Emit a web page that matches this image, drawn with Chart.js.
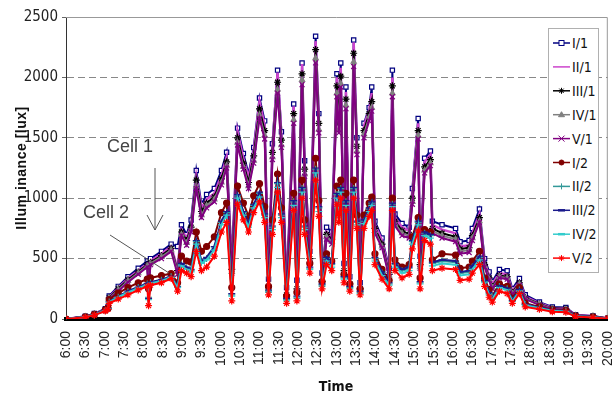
<!DOCTYPE html>
<html>
<head>
<meta charset="utf-8">
<script src="https://cdn.jsdelivr.net/npm/chart.js@4.4.1/dist/chart.umd.min.js"></script>
<style>
  body { margin: 0; background: #fff; }
  #wrap { position: relative; width: 613px; height: 397px; }
  #chart { position: absolute; left: 0; top: 0; }
  #overlay { position: absolute; left: 0; top: 0; pointer-events: none; }
  .narrow { font-family: 'Liberation Sans Narrow', 'Arial Narrow', 'DejaVu Sans Condensed', sans-serif; }
  .sans { font-family: 'Liberation Sans', Arial, sans-serif; }
</style>
</head>
<body>
<div id="wrap">
  <canvas id="chart" width="613" height="397"></canvas>
  <svg id="overlay" width="613" height="397"></svg>
</div>
<script>
// sample times
const times = ['6:00','6:30','6:44','7:01','7:05','7:07','7:21','7:36','7:52','8:06',
  '8:08','8:11','8:28','8:43','8:53','8:59','9:07','9:14','9:22','9:30',
  '9:38','9:50','10:01','10:09','10:17','10:26','10:35','10:43','10:51','11:00',
  '11:08','11:14','11:20','11:28','11:34','11:42','11:53','11:58','12:06','12:10',
  '12:18','12:27','12:32','12:37','12:44','12:52','13:00','13:03','13:06','13:11',
  '13:14','13:20','13:26','13:31','13:36','13:42','13:50','13:54','13:59','14:10',
  '14:21','14:26','14:30','14:41','14:52','14:57','15:06','15:09','15:16','15:25',
  '15:28','15:43','16:04','16:11','16:25','16:30','16:41','16:49','16:56','17:01',
  '17:12','17:24','17:32','17:43','17:52','18:14','18:34','18:55','19:10','19:37','20:00'];

const timeTicks = ['6:00','6:30','7:00','7:30','8:00','8:30','9:00','9:30','10:00','10:30',
  '11:00','11:30','12:00','12:30','13:00','13:30','14:00','14:30','15:00','15:30',
  '16:00','16:30','17:00','17:30','18:00','18:30','19:00','19:30','20:00'];
const yTicks = [0, 500, 1000, 1500, 2000, 2500];

const seriesNames = ['I/1','II/1','III/1','IV/1','V/1','I/2','II/2','III/2','IV/2','V/2'];

// cell 1
const i1 = [0,22,45,85,100,190,270,350,420,480,
  460,500,560,620,600,780,700,820,1230,950,
  1030,1080,1230,1380,480,1580,1370,1200,1420,1830,
  1640,330,1450,2060,1550,260,1780,320,2120,1310,
  560,2340,1700,380,760,720,2030,1700,2120,460,
  1920,350,2310,1500,300,1620,1750,1920,810,670,
  420,2060,870,790,760,1080,1660,520,1330,1390,
  810,780,750,640,650,750,910,500,390,310,
  410,400,250,335,200,140,100,95,35,25,5];
const ii1 = [0,20,42,80,95,180,255,335,400,460,
  300,480,540,600,420,740,670,780,1180,920,
  990,1040,1190,1340,430,1550,1330,1170,1390,1800,
  1600,280,1420,2040,1520,220,1760,270,2110,1280,
  520,2300,1680,330,720,680,2000,1670,2080,420,
  1880,310,2290,1470,260,1600,1730,1870,780,650,
  390,2000,840,760,730,1040,1620,470,1300,1360,
  780,740,710,600,610,710,870,470,360,290,
  380,370,230,310,185,130,92,88,32,23,5];
const iii1 = [0,20,40,78,92,175,250,325,390,450,
  280,470,525,585,400,720,650,760,1150,890,
  960,1010,1160,1300,410,1500,1290,1130,1350,1740,
  1560,260,1380,1960,1480,200,1700,250,2030,1240,
  500,2230,1620,310,700,660,1930,1620,2010,400,
  1820,290,2200,1430,250,1560,1700,1800,750,620,
  370,1930,810,730,700,1000,1560,450,1260,1320,
  750,710,680,580,590,690,840,450,340,270,
  360,350,220,300,175,125,88,84,30,22,4];
const iv1 = [0,19,40,76,90,170,240,315,380,440,
  260,460,515,570,390,700,630,740,1100,860,
  940,990,1130,1270,390,1460,1260,1100,1310,1690,
  1520,250,1340,1900,1440,190,1650,240,1980,1200,
  480,2160,1570,300,680,640,1870,1570,1950,380,
  1770,280,2130,1390,240,1530,1670,1750,730,600,
  360,1870,790,710,690,970,1520,430,1230,1290,
  730,690,660,560,570,670,810,440,330,260,
  350,340,210,290,170,120,85,80,29,21,4];
const v1 = [0,18,38,74,88,165,230,305,370,430,
  250,450,500,560,370,690,610,720,1080,840,
  920,970,1110,1250,380,1440,1240,1080,1290,1660,
  1490,240,1320,1870,1420,180,1620,230,1940,1180,
  470,2120,1540,290,660,620,1840,1540,1920,370,
  1740,270,2090,1360,230,1500,1640,1720,710,590,
  350,1840,770,690,670,950,1490,420,1210,1270,
  710,670,640,540,550,650,800,430,320,250,
  340,330,200,280,165,115,82,78,28,20,4];

// cell 2
const i2 = [0,18,38,75,90,160,215,260,300,330,
  250,340,360,375,300,520,480,470,720,560,
  600,680,880,960,260,1100,960,850,1020,1120,
  930,270,820,1200,920,190,1040,220,1150,820,
  460,1330,980,310,540,480,1100,920,1150,370,
  1040,290,1150,860,250,860,960,1010,540,410,
  320,1000,490,430,450,680,840,340,740,720,
  490,540,530,420,430,480,560,340,240,190,
  290,270,170,260,130,100,75,70,26,18,4];
const ii2 = [0,16,34,70,84,140,180,225,260,290,
  180,300,320,350,270,450,420,400,640,470,
  500,590,800,880,200,1020,880,780,940,1040,
  860,230,760,1120,860,160,970,180,1080,760,
  420,1240,920,280,500,450,1030,860,1080,340,
  970,260,1080,800,220,810,910,960,500,380,
  290,950,450,400,420,640,800,300,710,690,
  460,480,470,380,390,430,510,310,210,170,
  270,250,150,240,120,92,70,65,24,16,4];
const iii2 = [0,17,36,72,86,145,185,230,265,295,
  170,305,325,355,265,460,430,410,650,480,
  510,600,810,890,210,1030,890,790,950,1050,
  870,240,770,1130,870,170,980,190,1090,770,
  430,1250,930,290,510,460,1040,870,1090,350,
  980,270,1090,810,230,820,920,970,510,390,
  300,960,460,410,430,650,810,310,720,700,
  470,490,480,390,400,440,520,320,220,175,
  275,255,155,245,122,94,72,66,24,16,4];
const iv2 = [0,16,35,70,84,140,180,220,255,285,
  160,295,315,345,260,440,410,390,620,460,
  490,570,780,860,190,1000,860,760,920,1010,
  840,220,740,1090,840,150,940,170,1050,740,
  410,1210,890,270,480,430,1000,840,1050,330,
  940,250,1050,780,210,790,890,940,480,360,
  280,930,430,380,400,620,780,290,690,670,
  440,460,450,360,370,410,490,300,200,165,
  260,240,145,230,115,90,68,62,22,15,3];
const v2 = [0,14,32,66,80,130,165,200,240,270,
  110,280,300,335,230,400,380,350,560,400,
  430,520,720,800,150,950,820,720,880,970,
  800,200,700,1050,800,130,900,150,1000,700,
  380,1150,850,250,450,400,950,800,1000,300,
  900,230,1000,750,200,750,850,900,450,330,
  250,900,400,340,370,580,730,250,650,620,
  400,420,410,320,330,380,450,270,180,140,
  230,210,130,210,100,80,60,55,20,12,3];

const seriesValues = [i1, ii1, iii1, iv1, v1, i2, ii2, iii2, iv2, v2];

const seriesStyles = [
  { color: '#000080', point: 'rect', fill: '#ffffff', r: 3 },
  { color: '#cc44cc', point: false, fill: '#cc44cc', r: 0 },
  { color: '#000000', point: 'star', fill: '#000000', r: 3.5 },
  { color: '#808080', point: 'triangle', fill: '#808080', r: 3 },
  { color: '#800080', point: 'crossRot', fill: '#800080', r: 3.5 },
  { color: '#800000', point: 'circle', fill: '#800000', r: 3 },
  { color: '#339999', point: 'cross', fill: '#339999', r: 3.5 },
  { color: '#1a1a8c', point: 'line', fill: '#1a1a8c', r: 3.5 },
  { color: '#33cccc', point: 'line', fill: '#33cccc', r: 3.5 },
  { color: '#ff0000', point: 'star', fill: '#ff0000', r: 3.5 }
];

function toHours(s) {
  const [h, m] = s.split(':').map(Number);
  return h + m / 60;
}

const NARROW = "'Liberation Sans Narrow', 'Arial Narrow', 'DejaVu Sans Condensed', sans-serif";
Chart.defaults.font.family = "'Liberation Sans', Arial, sans-serif";

const datasets = seriesValues.map((vals, i) => {
  const st = seriesStyles[i];
  return {
    label: seriesNames[i],
    data: vals.map((v, k) => ({ x: toHours(times[k]), y: v })),
    borderColor: st.color,
    backgroundColor: st.fill,
    borderWidth: i === 1 ? 2.5 : 2,
    pointStyle: st.point,
    pointRadius: st.r,
    pointBorderColor: st.color,
    pointBackgroundColor: st.fill,
    pointBorderWidth: 1.2,
    tension: 0,
    order: seriesValues.length - i
  };
});

const framePlugin = {
  id: 'frame',
  beforeDatasetsDraw(chart) {
    const { ctx, chartArea: a } = chart;
    ctx.save();
    ctx.strokeStyle = '#999';
    ctx.lineWidth = 1;
    ctx.beginPath();
    ctx.moveTo(a.left, a.top + 0.5);
    ctx.lineTo(a.right - 0.5, a.top + 0.5);
    ctx.lineTo(a.right - 0.5, a.bottom);
    ctx.stroke();
    ctx.restore();
  }
};

new Chart(document.getElementById('chart'), {
  type: 'line',
  data: { datasets },
  options: {
    responsive: false,
    animation: false,
    layout: { padding: { top: 17, right: 5, left: 0, bottom: 0 } },
    plugins: { legend: { display: false }, tooltip: { enabled: false } },
    scales: {
      x: {
        type: 'linear',
        min: 6,
        max: 20,
        afterBuildTicks: s => { s.ticks = timeTicks.map(t => ({ value: toHours(t) })); },
        afterFit: s => { s.height = 78; s.paddingLeft = 0; s.paddingRight = 0; },
        grid: { display: false, drawTicks: false },
        border: { display: true, color: '#000', width: 4 },
        ticks: {
          autoSkip: false,
          maxRotation: 90,
          minRotation: 90,
          padding: 12,
          color: '#222',
          font: { size: 14 },
          callback: (v, i) => timeTicks[i]
        }
      },
      y: {
        min: 0,
        max: 2500,
        afterBuildTicks: s => { s.ticks = yTicks.map(v => ({ value: v })); },
        afterFit: s => { s.width = 66; s.paddingTop = 0; s.paddingBottom = 0; },
        grid: {
          color: c => (c.tick && (c.tick.value === 0 || c.tick.value === 2500)) ? 'rgba(0,0,0,0)' : '#888',
          tickColor: '#666',
          tickLength: 4
        },
        border: { display: true, color: '#333', width: 1, dash: [7, 4] },
        ticks: {
          padding: 4,
          color: '#222',
          font: { family: NARROW, size: 15 },
          callback: v => String(v)
        }
      }
    }
  },
  plugins: [framePlugin]
});

// legend and annotations
function marker(style, color, fill, x, y) {
  const r = 3;
  const ln = (x1, y1, x2, y2, w) => `<line x1="${x1}" y1="${y1}" x2="${x2}" y2="${y2}" stroke="${color}" stroke-width="${w || 1}"/>`;
  switch (style) {
    case 'rect': return `<rect x="${x - 2.5}" y="${y - 2.5}" width="5" height="5" fill="${fill}" stroke="${color}"/>`;
    case 'circle': return `<circle cx="${x}" cy="${y}" r="2.5" fill="${fill}" stroke="${color}"/>`;
    case 'triangle': return `<polygon points="${x},${y - 3} ${x - 3},${y + 2} ${x + 3},${y + 2}" fill="${fill}" stroke="${color}"/>`;
    case 'cross': return ln(x - r, y, x + r, y) + ln(x, y - r, x, y + r);
    case 'crossRot': return ln(x - r, y - r, x + r, y + r) + ln(x - r, y + r, x + r, y - r);
    case 'star': return ln(x - r, y, x + r, y) + ln(x, y - r, x, y + r) + ln(x - 2.2, y - 2.2, x + 2.2, y + 2.2) + ln(x - 2.2, y + 2.2, x + 2.2, y - 2.2);
    case 'line': return ln(x - 3.5, y, x + 3.5, y, 2.5);
    default: return '';
  }
}

let svg = '<rect x="548.5" y="28.5" width="50" height="244" fill="#fff" stroke="#b0b0b0"/>';
seriesNames.forEach((name, i) => {
  const st = seriesStyles[i];
  const y = 43 + i * 23.9;
  svg += `<line x1="553" y1="${y}" x2="570" y2="${y}" stroke="${st.color}" stroke-width="1.5"/>`;
  svg += marker(st.point, st.color, st.fill, 561.5, y);
  svg += `<text x="572" y="${y + 5}" class="narrow" font-size="14" fill="#111">${name}</text>`;
});

svg += '<text class="sans" font-size="14" font-weight="bold" letter-spacing="0.5" fill="#111" text-anchor="middle" transform="translate(26,168) rotate(-90)">Illum inance [lux]</text>';
svg += '<text class="narrow" font-size="14" font-weight="bold" fill="#111" text-anchor="middle" x="336" y="391">Time</text>';

svg += '<text class="sans" font-size="18" fill="#444" x="107" y="152">Cell 1</text>';
svg += '<line x1="155" y1="168" x2="155" y2="230" stroke="#555"/>';
svg += '<polyline points="147,215 155,230 163,215" fill="none" stroke="#555"/>';
svg += '<text class="sans" font-size="18" fill="#444" x="83" y="218">Cell 2</text>';
svg += '<line x1="110" y1="235" x2="169" y2="273" stroke="#555"/>';

document.getElementById('overlay').innerHTML = svg;
</script>
</body>
</html>
